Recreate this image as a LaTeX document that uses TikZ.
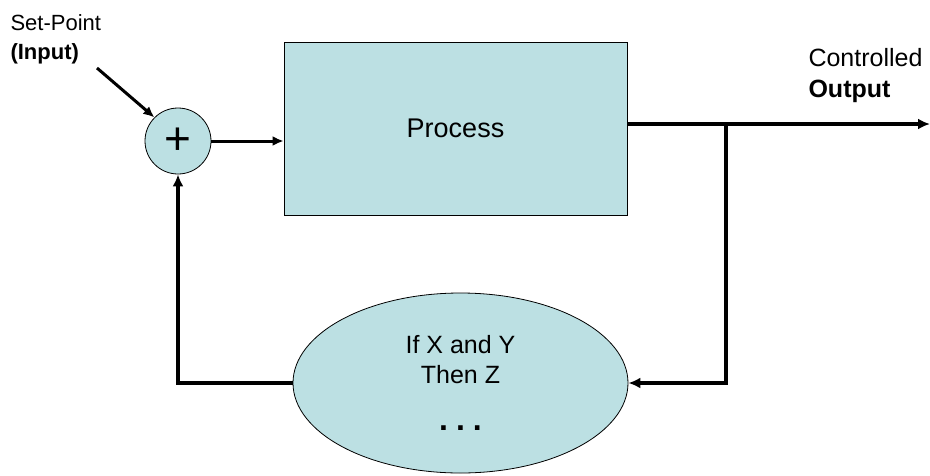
\documentclass[tikz,border=0pt]{standalone}
\usepackage{fontspec}
\setmainfont{Liberation Sans}
\usetikzlibrary{positioning, arrows.meta, shapes.geometric}
\definecolor{boxblue}{HTML}{BCE0E3}

\begin{document}
\begin{tikzpicture}[x=1pt, y=-1pt, font=\fontsize{25}{30}\selectfont,
    block/.style={draw, line width=0.8pt, fill=boxblue},
    flow/.style={line width=4pt, -{Latex[length=12pt, width=11pt]}},
    thinflow/.style={line width=3pt, -{Latex[length=11pt, width=10pt]}}]
                \useasboundingbox (0,0) rectangle (930,475);

                \node[block, circle, minimum size=66pt, inner sep=0pt] (Sum) at (178,141) {\fontsize{46}{46}\selectfont +};
                \node[block, rectangle, minimum width=343pt, minimum height=173pt, font=\fontsize{27}{30}\selectfont] (Process) at (455.5,128.5) {Process};
                \node[block, ellipse, minimum width=335pt, minimum height=180pt, inner sep=0pt, align=center] (Rule) at (460.5,383) {If X and Y\\Then Z\\[17pt]{\fontsize{32}{30}\selectfont\textbf{.\hspace{8pt}.\hspace{8pt}.}}};
                \node[align=left, anchor=north west, font=\fontsize{22}{29}\selectfont] (Setpoint) at (7,11) {Set-Point\\\textbf{(Input)}};
                \node[align=left, anchor=north west, font=\fontsize{25}{31}\selectfont] (Output label) at (805,45) {Controlled\\\textbf{Output}};

                \coordinate (Branch) at (726,124);
                \coordinate (Out) at (930,124);
                \coordinate (Input tail) at (97,68);

                \draw[thinflow] (Input tail) -- (Sum.135);
                \draw[thinflow] (Sum) -- (Sum -| Process.west);
                \draw[flow] (Process.east |- Branch) -- (Out);
                \draw[flow] (Branch) |- (Rule.east);
                \draw[flow] (Rule.west) -| (Sum.south);

            \end{tikzpicture}
\end{document}
